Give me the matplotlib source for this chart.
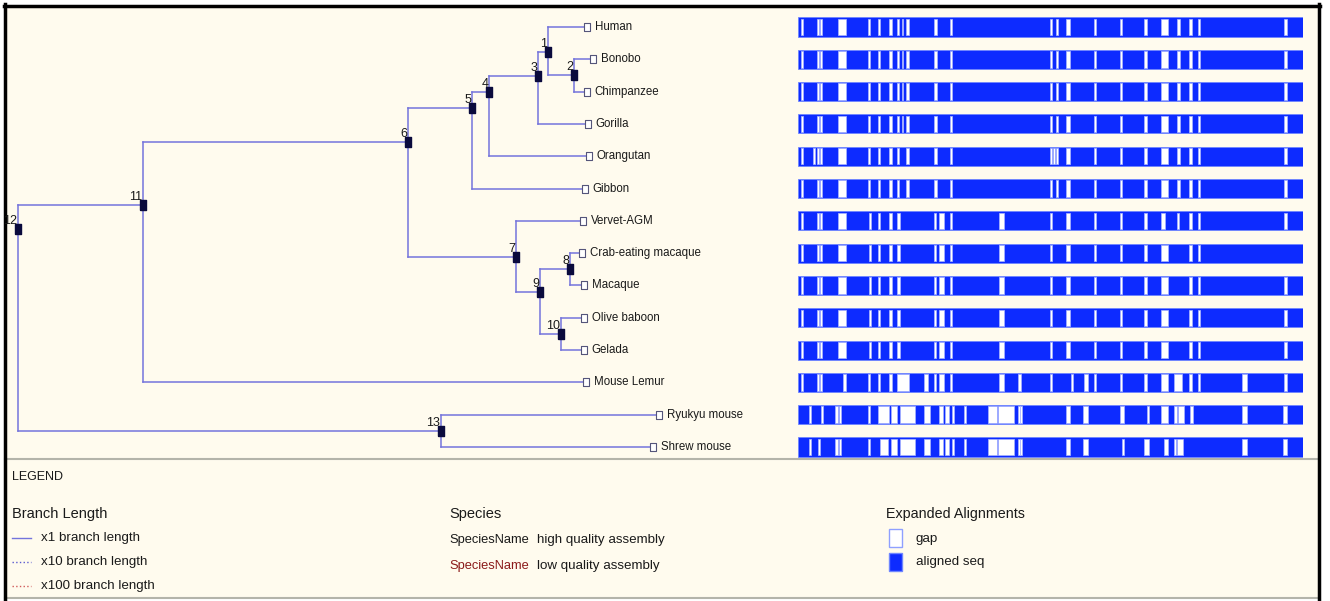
import matplotlib
matplotlib.use("Agg")
import matplotlib.pyplot as plt
from matplotlib.patches import Rectangle
from matplotlib.lines import Line2D

plt.rcParams['font.family'] = ['Liberation Sans', 'DejaVu Sans']

# leaves from top to bottom
species = ["Human", "Bonobo", "Chimpanzee", "Gorilla", "Orangutan", "Gibbon",
           "Vervet-AGM", "Crab-eating macaque", "Macaque", "Olive baboon",
           "Gelada", "Mouse Lemur", "Ryukyu mouse", "Shrew mouse"]
# distance of each tip from the root (drawing units)
leaf_depth = [569, 575, 569, 570, 571, 567, 565, 564, 566, 566, 566, 568, 641, 635]

# internal nodes
node_ids = [1, 2, 3, 4, 5, 6, 7, 8, 9, 10, 11, 12, 13]
node_depth = [530, 556, 520, 471, 454, 390, 498, 552, 522, 543, 125, 0, 423]
node_row = [0.77, 1.49, 1.52, 2.01, 2.51, 3.56, 7.12, 7.49, 8.2, 9.5, 5.51, 6.25, 12.5]
node_children = [["Human", 2], ["Bonobo", "Chimpanzee"], [1, "Gorilla"],
                 [3, "Orangutan"], [4, "Gibbon"], [5, 7], ["Vervet-AGM", 9],
                 ["Crab-eating macaque", "Macaque"], [8, 10],
                 ["Olive baboon", "Gelada"], [6, "Mouse Lemur"], [11, 13],
                 ["Ryukyu mouse", "Shrew mouse"]]

# alignment gaps per species, (start, end) in alignment columns (0..505)
aln_length = 505
gaps_human = [(3, 5), (19, 21), (22, 24), (40, 48), (70, 72), (80, 82), (91, 94), (99, 101),
              (104, 105), (108, 111), (136, 139), (152, 154), (252, 254), (258, 260),
              (268, 272), (296, 298), (322, 324), (346, 349), (363, 370), (379, 382),
              (391, 394), (400, 402), (486, 489)]
gaps_bonobo = gaps_human
gaps_chimp = gaps_human
gaps_gorilla = gaps_human
gaps_orangutan = [(3, 5), (15, 16.5), (19, 21), (22, 24), (40, 48), (70, 72), (80, 82),
                  (91, 94), (99, 101), (108, 111), (136, 139), (152, 154), (252, 254),
                  (255, 256.5), (258, 260), (268, 272), (296, 298), (322, 324), (346, 349),
                  (363, 370), (379, 382), (391, 394), (400, 402), (486, 489)]
gaps_gibbon = [g for g in gaps_human if g != (104, 105)]
gaps_vervet = [(3, 5), (19, 21), (22, 24), (40, 48), (71, 73), (80, 82), (91, 94), (99, 102),
               (136, 138), (141, 146), (152, 154), (201, 206), (252, 254), (268, 272),
               (296, 298), (322, 324), (346, 349), (363, 367), (379, 381), (391, 394),
               (400, 402), (486, 489)]
gaps_crab = [(3, 5), (19, 21), (22, 24), (40, 48), (71, 73), (80, 82), (91, 94), (99, 102),
             (136, 138), (141, 146), (152, 154), (201, 206), (252, 254), (268, 272),
             (296, 298), (322, 324), (346, 349), (363, 370), (391, 394), (400, 402)]
gaps_macaque = gaps_crab + [(486, 489)]
gaps_baboon = gaps_macaque
gaps_gelada = gaps_macaque
gaps_lemur = [(3, 5), (19, 21), (22, 24), (45, 48), (70, 72), (80, 82), (91, 94), (99, 111),
              (126, 130), (136, 138), (141, 146), (152, 154), (201, 206), (220, 223),
              (252, 254), (273, 274.5), (286, 290), (296, 298), (322, 324), (346, 349),
              (363, 370), (376, 384), (391, 394), (400, 402), (444, 449), (486, 489)]
gaps_ryukyu = [(11, 13), (23, 25), (37, 40), (40.7, 43), (70, 72), (80, 91), (93, 99),
               (102, 117), (126, 132), (141, 145), (147, 151), (154, 156), (166, 168),
               (190, 199), (200, 216), (220, 221.5), (222, 223.5), (268, 272), (285, 290),
               (322, 326), (349, 351), (363, 370), (376, 379), (380, 386), (392, 395),
               (444, 449), (485, 489)]
gaps_shrew = [(11, 13), (20, 22), (37, 40), (40.7, 43), (70, 72), (82, 90), (93, 99),
              (102, 117), (126, 132), (141, 145), (147, 151), (154, 156), (166, 168),
              (190, 199), (200, 216), (220, 221.5), (222, 223.5), (268, 272), (285, 290),
              (324, 326), (346, 351), (366, 370), (376, 378), (379, 385), (444, 449),
              (485, 489)]
all_gaps = [gaps_human, gaps_bonobo, gaps_chimp, gaps_gorilla, gaps_orangutan, gaps_gibbon,
            gaps_vervet, gaps_crab, gaps_macaque, gaps_baboon, gaps_gelada, gaps_lemur,
            gaps_ryukyu, gaps_shrew]

W, H = 1330, 601
BG = '#fffbee'
LINE = '#7474dc'
BLUE = '#0d2bff'
TXT = '#1a1a1a'


def fx(x):
    return x / W


def fy(y):
    return 1 - y / H


fig = plt.figure(figsize=(W / 100, H / 100), dpi=100, facecolor='white')

# panel background and frame (kept behind the axes contents)
fig.patches.append(Rectangle((fx(5), fy(598)), fx(1319 - 5), 593 / H,
                             transform=fig.transFigure, facecolor=BG, edgecolor='none',
                             zorder=-10))
frame = [([5, 1319], [459, 459], '#b4b4aa', 1.5),
         ([5, 1319], [598, 598], '#b4b4aa', 1.5),
         ([4, 1320], [5.5, 5.5], 'black', 2.5),
         ([5, 5], [4, 599], 'black', 2.5),
         ([1319, 1319], [4, 599], 'black', 2.5)]
for xs, ys, c, lw in frame:
    fig.add_artist(Line2D([fx(v) for v in xs], [fy(v) for v in ys], color=c, lw=lw,
                          zorder=-5))

# row r sits at pixel 27 + 32.31 r
row_px = 32.31
top_row = -27 / row_px
bot_row = (460 - 27) / row_px

ax = fig.add_axes([0, fy(460), 1, 460 / H])
ax.set_xlim(-18, W - 18)
ax.set_ylim(bot_row, top_row)
ax.axis('off')

pos = {}
for name, d, r in zip(species, leaf_depth, range(len(species))):
    pos[name] = (d, r)
for nid, d, r in zip(node_ids, node_depth, node_row):
    pos[nid] = (d, r)

for nid, kids in zip(node_ids, node_children):
    px, py = pos[nid]
    ys = [pos[k][1] for k in kids]
    ax.plot([px, px], [min(ys), max(ys)], color=LINE, lw=1.1, zorder=1)
    for k in kids:
        kx, ky = pos[k]
        ax.plot([px, kx], [ky, ky], color=LINE, lw=1.1, zorder=1)

node_marker = [(-2.5, -4.5), (2.5, -4.5), (2.5, 4.5), (-2.5, 4.5), (-2.5, -4.5)]
ax.plot(node_depth, node_row, linestyle='none', marker=node_marker, markersize=6.5,
        color='#0a0a3c', zorder=3)
for nid, d, r in zip(node_ids, node_depth, node_row):
    ax.annotate(str(nid), (d, r), xytext=(-0.5, 1.5), textcoords='offset points',
                ha='right', va='bottom', fontsize=9, color=TXT, zorder=4)

leaf_marker = [(-2.5, -4), (2.5, -4), (2.5, 4), (-2.5, 4), (-2.5, -4)]
ax.plot(leaf_depth, range(len(species)), linestyle='none', marker=leaf_marker,
        markersize=6, markerfacecolor='white', markeredgecolor='#55557a',
        markeredgewidth=0.8, zorder=3)
for name, d, r in zip(species, leaf_depth, range(len(species))):
    ax.annotate(name, (d, r), xytext=(5.5, 0), textcoords='offset points',
                ha='left', va='center', fontsize=8.3, color=TXT)

# alignment overview
axa = fig.add_axes([fx(798), fy(460), fx(505), 460 / H])
axa.set_xlim(0, aln_length)
axa.set_ylim(bot_row, top_row)
axa.axis('off')
bar_h = 0.59
axa.barh(range(len(species)), aln_length, height=bar_h, color=BLUE,
         edgecolor='#6f86ff', linewidth=0.6)
for r, gaps in enumerate(all_gaps):
    axa.broken_barh([(a, b - a) for a, b in gaps], (r - bar_h / 2 + 0.04, bar_h - 0.08),
                    facecolors='white', edgecolors='#a9b6ff', linewidth=0.5)

# legend block
fig.text(fx(12), fy(477), "LEGEND", fontsize=9, color=TXT, va='center')
fig.text(fx(12), fy(514), "Branch Length", fontsize=10.5, color=TXT, va='center')
leg_lines = [("x1 branch length", LINE, '-'),
             ("x10 branch length", '#5a5ad0', ':'),
             ("x100 branch length", '#d05a5a', ':')]
for i, (lab, c, ls) in enumerate(leg_lines):
    y = 538 + 24 * i
    fig.add_artist(Line2D([fx(12), fx(31)], [fy(y), fy(y)], color=c, ls=ls, lw=1))
    fig.text(fx(41), fy(y), lab, fontsize=9.6, color=TXT, va='center')

fig.text(fx(449), fy(514), "Species", fontsize=10.5, color=TXT, va='center')
fig.text(fx(449), fy(540), "SpeciesName", fontsize=9.3, color=TXT, va='center')
fig.text(fx(537), fy(540), "high quality assembly", fontsize=9.6, color=TXT, va='center')
fig.text(fx(449), fy(566), "SpeciesName", fontsize=9.3, color='#8b1a1a', va='center')
fig.text(fx(537), fy(566), "low quality assembly", fontsize=9.6, color=TXT, va='center')

fig.text(fx(886), fy(514), "Expanded Alignments", fontsize=10.3, color=TXT, va='center')
fig.patches.append(Rectangle((fx(889), fy(547)), fx(13), 18 / H, transform=fig.transFigure,
                             facecolor='white', edgecolor='#8fa0ff', lw=1))
fig.patches.append(Rectangle((fx(889), fy(571)), fx(13), 18 / H, transform=fig.transFigure,
                             facecolor=BLUE, edgecolor='#6f86ff', lw=1))
fig.text(fx(916), fy(539), "gap", fontsize=9.6, color=TXT, va='center')
fig.text(fx(916), fy(562), "aligned seq", fontsize=9.6, color=TXT, va='center')

fig.savefig("out.png", dpi=100, facecolor='white')
